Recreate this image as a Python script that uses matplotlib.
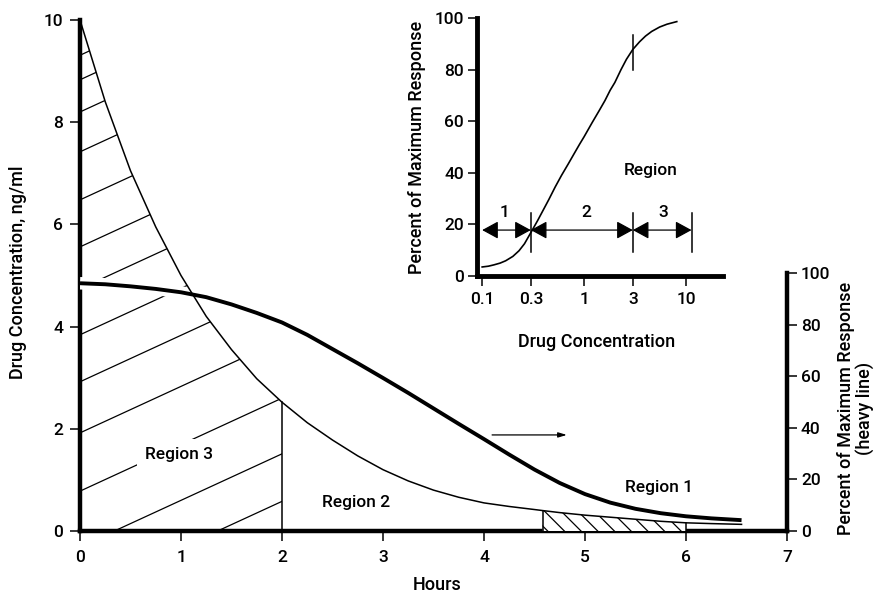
import numpy as np
import matplotlib
matplotlib.use('Agg')
import matplotlib.pyplot as plt

plt.rcParams['font.family'] = ['Roboto', 'Liberation Sans', 'DejaVu Sans']
plt.rcParams['font.weight'] = 'medium'
plt.rcParams['hatch.linewidth'] = 0.9

# ---------------- data ----------------
# thin line: drug concentration (ng/ml) vs hours
hours = [0.0, 0.25, 0.5, 0.75, 1.0, 1.25, 1.5, 1.75, 2.0, 2.25, 2.5, 2.75, 3.0,
         3.25, 3.5, 3.75, 4.0, 4.25, 4.5, 4.58, 4.75, 5.0, 5.25, 5.5, 5.75, 6.0,
         6.25, 6.55]
conc = [10.0, 8.4, 7.05, 5.95, 5.0, 4.2, 3.55, 2.98, 2.52, 2.12, 1.78, 1.47, 1.2,
        0.98, 0.8, 0.66, 0.55, 0.48, 0.42, 0.40, 0.36, 0.31, 0.27, 0.23, 0.19, 0.16,
        0.145, 0.13]

# heavy line: percent of maximum response vs hours
resp_hours = [0.0, 0.25, 0.5, 0.75, 1.0, 1.25, 1.5, 1.75, 2.0, 2.25, 2.5, 2.75,
              3.0, 3.25, 3.5, 3.75, 4.0, 4.25, 4.5, 4.75, 5.0, 5.25, 5.5, 5.75,
              6.0, 6.25, 6.55]
resp_pct = [96.0, 95.6, 94.8, 93.8, 92.5, 90.6, 87.8, 84.5, 80.8, 76.0, 70.5, 65.0,
            59.3, 53.5, 47.5, 41.5, 35.6, 29.6, 23.8, 18.6, 14.3, 11.0, 8.6, 6.9,
            5.7, 4.9, 4.2]

# region boundaries (hours)
region3_end = 2.0
region1_start = 4.58
region1_end = 6.0

# hatch line intercepts (ng/ml at t=0) for region 3
hatch_intercepts = [-1.24, -0.31, 0.78, 1.92, 2.92, 3.84, 4.74, 5.56, 6.48, 7.42,
                    8.2, 8.83, 9.31]
hatch_slope = 0.91

x_ticks = [0, 1, 2, 3, 4, 5, 6, 7]
y_ticks = [0, 2, 4, 6, 8, 10]
right_ticks = [0, 20, 40, 60, 80, 100]

# inset: dose-response curve
inset_conc = [0.1, 0.115, 0.13, 0.15, 0.17, 0.2, 0.23, 0.26, 0.3, 0.35, 0.4, 0.45,
              0.52, 0.6, 0.7, 0.8, 0.9, 1.0, 1.2, 1.4, 1.6, 1.8, 2.0, 2.3, 2.6,
              3.0, 3.5, 4.0, 4.6, 5.5, 6.5, 8.1]
inset_resp = [3.5, 3.8, 4.3, 5.0, 5.9, 7.6, 9.8, 12.5, 16.8, 21.5, 25.8, 29.6,
              34.5, 39.0, 43.5, 47.5, 51.0, 54.0, 59.5, 64.0, 68.0, 72.0, 75.0,
              80.0, 84.0, 87.8, 90.8, 93.0, 94.8, 96.5, 97.6, 98.6]
inset_xticks = [0.1, 0.3, 1, 3, 10]
inset_xticklabels = ['0.1', '0.3', '1', '3', '10']
inset_yticks = [0, 20, 40, 60, 80, 100]
inset_bars = [0.3, 3.0, 11.3]
inset_arrow_level = 17.8
inset_region_labels = ['1', '2', '3']
inset_label_pos = [0.165, 1.05, 6.0]

# ---------------- figure ----------------
W, H = 875, 593
fig = plt.figure(figsize=(W / 100, H / 100), dpi=100)
fig.patch.set_facecolor('white')
FS = 12.5

def px(x0, y0, x1, y1):
    return [x0 / W, 1 - y1 / H, (x1 - x0) / W, (y1 - y0) / H]

ax = fig.add_axes(px(80, 20, 787, 531))
ax.set_xlim(0, 7)
ax.set_ylim(0, 10)
for s in ['top', 'right']:
    ax.spines[s].set_visible(False)
for s in ['left', 'bottom']:
    ax.spines[s].set_linewidth(3.2)
ax.set_xticks(x_ticks)
ax.set_yticks(y_ticks)
ax.tick_params(axis='y', direction='out', labelsize=FS, width=1.1, length=7, pad=5)
ax.tick_params(axis='x', direction='out', labelsize=FS, width=1.1, length=7, pad=7)
ax.set_facecolor('none')

ax2 = ax.twinx()
ax2.set_ylim(0, 198)
ax2.set_yticks(right_ticks)
for s in ['top', 'left', 'bottom']:
    ax2.spines[s].set_visible(False)
ax2.spines['right'].set_linewidth(3.2)
ax2.spines['right'].set_bounds(0, 100)
ax2.tick_params(axis='y', direction='out', labelsize=FS, width=1.1, length=7, pad=3)

t = np.array(hours)
c = np.array(conc)

# Region 3 (hatched, custom slanted lines)
m3 = t <= region3_end
poly3 = ax.fill_between(t[m3], 0, c[m3], facecolor='none', edgecolor='none')
clip3 = poly3.get_paths()[0]
tt = np.array([0.0, region3_end])
for b in hatch_intercepts:
    ln, = ax.plot(tt, b + hatch_slope * tt, color='black', lw=0.9, zorder=2)
    ln.set_clip_path(clip3, ax.transData)
i2 = list(hours).index(region3_end)
ax.plot([region3_end, region3_end], [0, conc[i2]], color='black', lw=1.1, zorder=5)

# Region 1 (hatched)
m1 = (t >= region1_start) & (t <= region1_end)
ax.fill_between(t[m1], 0, c[m1], facecolor='white', edgecolor='black',
                hatch='\\\\', lw=0, zorder=4.5)
i1a = list(hours).index(region1_start)
i1b = list(hours).index(region1_end)
ax.plot([region1_start, region1_start], [0, conc[i1a]], color='black', lw=1.1, zorder=5)
ax.plot([region1_end, region1_end], [0, conc[i1b]], color='black', lw=1.1, zorder=5)

# heavy line (response, right axis scale) with white halo
ax.plot(resp_hours, resp_pct, transform=ax2.transData, color='white', lw=9,
        solid_capstyle='butt', zorder=3)
ax.plot(resp_hours, resp_pct, transform=ax2.transData, color='black', lw=2.8,
        solid_capstyle='butt', solid_joinstyle='round', zorder=4)
# thin line (concentration)
ax.plot(hours, conc, color='black', lw=1.1, zorder=5)

# labels
ax.text(0.98, 1.49, 'Region 3', fontsize=FS, ha='center', va='center', zorder=6,
        bbox=dict(facecolor='white', edgecolor='none', pad=6))
ax.text(2.73, 0.55, 'Region 2', fontsize=FS, ha='center', va='center', zorder=6)
ax.text(5.73, 0.86, 'Region 1', fontsize=FS, ha='center', va='center', zorder=6)
ax.annotate('', xy=(4.82, 1.88), xytext=(4.08, 1.88),
            arrowprops=dict(arrowstyle='-|>,head_length=0.5,head_width=0.15',
                            color='black', lw=0.9, shrinkA=0, shrinkB=0,
                            mutation_scale=10), zorder=6)

fig.text(18 / W, 1 - 272 / H, 'Drug Concentration, ng/ml', rotation=90,
         ha='center', va='center', fontsize=FS + 0.5)
fig.text(437 / W, 1 - 585 / H, 'Hours', ha='center', va='center', fontsize=FS + 0.5)
fig.text(856 / W, 1 - 408 / H, 'Percent of Maximum Response\n(heavy line)',
         rotation=90, ha='center', va='center', multialignment='center',
         fontsize=FS + 0.5, linespacing=1.05)

# ---------------- inset ----------------
axi = fig.add_axes(px(477, 18, 723, 276))
axi.set_xscale('log')
axi.set_xlim(0.089, 23)
axi.set_ylim(0, 100)
for s in ['top', 'right']:
    axi.spines[s].set_visible(False)
for s in ['left', 'bottom']:
    axi.spines[s].set_linewidth(3.5)
axi.set_xticks(inset_xticks)
axi.set_xticklabels(inset_xticklabels)
axi.xaxis.set_minor_locator(matplotlib.ticker.NullLocator())
axi.set_yticks(inset_yticks)
axi.tick_params(axis='y', direction='out', labelsize=FS, width=1.1, length=6.5, pad=3)
axi.tick_params(axis='x', direction='out', labelsize=FS, width=1.1, length=7.5, pad=4)
axi.set_facecolor('none')

axi.plot(inset_conc, inset_resp, color='black', lw=1.2, solid_joinstyle='round')

for xb in inset_bars:
    axi.plot([xb, xb], [9.3, 24.4], color='black', lw=1.1)
axi.plot([inset_bars[1], inset_bars[1]], [80, 93.4], color='black', lw=1.1)

arrow_style = '<|-|>,head_length=0.55,head_width=0.3'
segments = [(inset_conc[0], inset_bars[0]), (inset_bars[0], inset_bars[1]),
            (inset_bars[1], inset_bars[2])]
for a, b in segments:
    axi.annotate('', xy=(b, inset_arrow_level), xytext=(a, inset_arrow_level),
                 arrowprops=dict(arrowstyle=arrow_style, color='black', lw=0.9,
                                 shrinkA=0, shrinkB=0, mutation_scale=18))
for lab, xp in zip(inset_region_labels, inset_label_pos):
    axi.text(xp, 24.8, lab, fontsize=FS, ha='center', va='center')
axi.text(4.45, 41, 'Region', fontsize=FS, ha='center', va='center')

fig.text(417 / W, 1 - 147 / H, 'Percent of Maximum Response', rotation=90,
         ha='center', va='center', fontsize=FS + 0.5)
fig.text(597 / W, 1 - 342 / H, 'Drug Concentration', ha='center', va='center',
         fontsize=FS + 0.5)

fig.savefig('out.png', dpi=100, facecolor='white')
